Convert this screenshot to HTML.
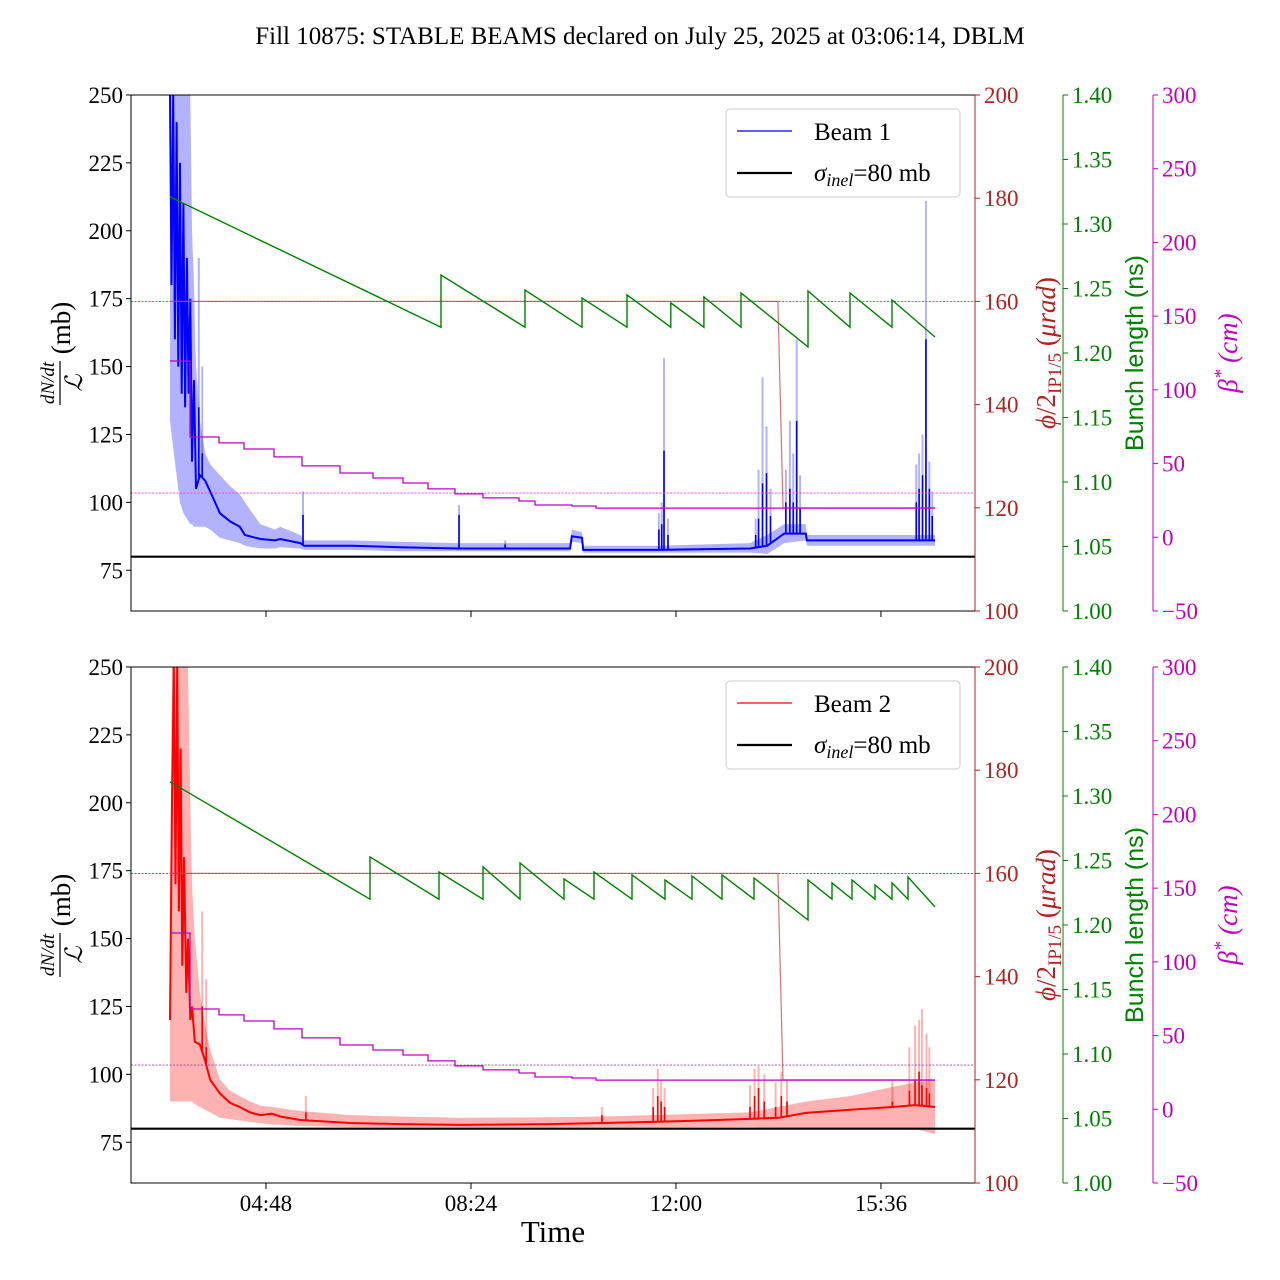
<!DOCTYPE html>
<html><head><meta charset="utf-8"><style>
html,body{margin:0;padding:0;background:#fff}
svg{display:block;font-family:"Liberation Serif",serif}
</style></head><body>
<svg id="fig" width="1280" height="1280" viewBox="0 0 1280 1280" xmlns="http://www.w3.org/2000/svg">
<text x="640" y="44" text-anchor="middle" font-size="25">Fill 10875: STABLE BEAMS declared on July 25, 2025 at 03:06:14, DBLM</text>
<text x="553" y="1242" text-anchor="middle" font-size="31">Time</text>
</svg>
<script>
// ---- data (time in hours) ----
const xTickLabels = ["04:48","08:24","12:00","15:36"];
const xTickTimes = [4.8, 8.4, 12.0, 15.6];
const leftTicks = [75,100,125,150,175,200,225,250];
const redTicks = [100,120,140,160,180,200];
const greenTicks = [1.00,1.05,1.10,1.15,1.20,1.25,1.30,1.35,1.40];
const magTicks = [-50,0,50,100,150,200,250,300];

// top panel (Beam 1)
const b1T  = [3.114,3.14,3.17,3.20,3.23,3.26,3.29,3.32,3.35,3.38,3.41,3.44,3.47,3.50,3.535,3.57,3.64,3.73,3.82,3.99,4.17,4.34,4.43,4.70,4.96,5.05,5.40,5.47,6.30,7.15,8.17,8.91,10.14,10.17,10.35,10.37,11.70,13.30,13.60,13.90,14.28,14.30,16.55];
const b1Mean=[250,180,250,160,240,150,225,140,210,135,190,140,175,115,145,105,110,108,104,96,93,91,88,86.5,86,86.5,85,84,84,83.5,83,83,83,87.5,87,82.5,82.5,83,84,88.5,88.5,86,86];
const b1Lo = [130,125,120,115,110,105,100,98,96,95,94,93,92,92,91,91,91,91,90,87,86,85,84,83,83,83.5,83,82.5,82.5,82,82,82,82,85.5,85,81.5,81.5,81.5,81,85,86,84,84];
const b1Hi = [250,250,250,250,250,250,250,250,250,250,250,250,250,200,180,150,130,118,114,110,106,103,100,92,90,91,88,86,86,85.5,85,85,85,90,89,84,84,85,88,92,92,88,88];
const b1SpikeT=[3.62,3.68,5.45,8.19,9.0,11.70,11.75,11.79,11.86,13.40,13.45,13.52,13.59,13.66,13.93,14.00,14.06,14.12,14.18,16.22,16.27,16.33,16.39,16.45,16.50];
const b1SpikeMean=[135,118,95.4,95.4,84.5,90,92,119,88,88,94,107,110.8,95,100,105,100,130,98,100,105,110,160,105,95];
const b1SpikeHi=[190,150,104,99,86,96,100,153,94,94,112,146,128,105,112,130,118,160,110,114,118,125,211,115,104];
const b1BunchT=[3.114,7.873,7.873,9.349,9.349,10.35,10.35,11.14,11.14,11.91,11.91,12.49,12.49,13.142,13.142,14.319,14.319,15.056,15.056,15.794,15.794,16.549];
const b1BunchV=[1.321,1.220,1.2605,1.220,1.2488,1.220,1.2426,1.220,1.245,1.220,1.2388,1.220,1.2434,1.220,1.2465,1.2047,1.2481,1.220,1.2465,1.220,1.2411,1.2124];

// bottom panel (Beam 2)
const b2T  = [3.114,3.15,3.18,3.21,3.24,3.27,3.30,3.33,3.36,3.40,3.43,3.47,3.50,3.55,3.64,3.73,3.82,3.99,4.17,4.34,4.52,4.70,4.90,5.05,5.40,6.28,7.15,8.20,9.80,10.70,11.60,12.45,13.30,13.80,14.28,15.06,15.80,16.20,16.55];
const b2Mean=[120,200,250,170,250,160,220,140,180,130,150,120,125,112,111,105,98,93,89.5,88,86,85,85.5,84.5,83.2,82.1,81.7,81.4,81.7,82.1,82.5,83,83.6,84,85.8,87,88,88.7,88];
const b2Lo = [90,90,90,90,90,90,90,90,90,90,90,90,90,89,88,87,86,84,83.5,83,82.5,82,81.5,81.5,81,80.5,80.5,80.5,80.5,80.5,80.5,80.5,80.5,80.3,80,80,80,80,78];
const b2Hi = [160,250,250,250,250,250,250,250,250,250,250,200,170,150,130,118,109,98,94,92,90,88.5,88,87.5,86.5,85,84.5,84,84.2,84.5,85,85.5,86,88,90,92,95.4,97,98];
const b2SpikeT=[3.68,3.75,5.50,10.70,11.60,11.68,11.74,11.80,13.30,13.38,13.45,13.55,13.75,13.85,13.95,15.80,16.10,16.20,16.27,16.32,16.40,16.45];
const b2SpikeMean=[125,110,86,85,88,92,90,88,88,92,95,90,88,92,90,90,94,98,101,96,95,93];
const b2SpikeHi=[160,135,92,88,95,102,98,95,96,102,103,100,97,101,98,98,110,118,120,124,115,110];
const b2BunchT=[3.114,6.626,6.626,7.838,7.838,8.611,8.611,9.261,9.261,10.034,10.034,10.560,10.560,11.228,11.228,11.807,11.807,12.282,12.282,12.809,12.809,13.370,13.370,14.319,14.319,14.740,14.740,15.092,15.092,15.496,15.496,15.794,15.794,16.075,16.075,16.549];
const b2BunchV=[1.311,1.220,1.2527,1.220,1.2411,1.220,1.245,1.220,1.2481,1.220,1.2357,1.220,1.2411,1.220,1.2388,1.220,1.2349,1.220,1.238,1.220,1.2388,1.220,1.2364,1.2039,1.2349,1.220,1.2326,1.220,1.2349,1.220,1.231,1.220,1.2326,1.220,1.2372,1.214];

// shared
const betaT=[3.114,3.465,3.975,4.414,4.94,5.432,6.10,6.679,7.206,7.645,8.119,8.611,9.243,9.524,10.174,10.596,16.549];
const betaV=[119.6,68.0,64.0,59.9,54.5,48.4,43.6,40.2,36.8,32.8,29.4,26.7,24.6,21.9,21.2,19.8,17.8];
const xingT=[3.114,13.79,13.88,16.549];
const xingV=[160,160,120,120];
const xingRef=160, betaRef=30, sigmaInel=80;

// ---- drawing ----
const NS="http://www.w3.org/2000/svg";
const svg=document.getElementById('fig');
const X0=131, X1=975;
function xs(t){return 266+(t-4.8)*56.94;}
function mk(tag,attrs,parent){const e=document.createElementNS(NS,tag);for(const k in attrs)e.setAttribute(k,attrs[k]);(parent||svg).appendChild(e);return e;}
function interp(T,V,t){if(t<=T[0])return V[0];for(let i=1;i<T.length;i++){if(t<=T[i]){const f=(t-T[i-1])/(T[i]-T[i-1]||1);return V[i-1]+f*(V[i]-V[i-1]);}}return V[V.length-1];}

function panel(y0,idx,cfg){
  const yb=y0+516;
  const ys=v=>yb-(v-60)*2.716;
  const yr=v=>yb-(v-100)*5.16;
  const yg=v=>yb-(v-1)*1290;
  const ym=v=>yb-(v+50)*1.4743;
  const g=mk('g',{});
  
  
  const cid='clip'+idx;
  const cp=mk('clipPath',{id:cid},g); mk('rect',{x:X0,y:y0,width:X1-X0,height:516},cp);
  const pg=mk('g',{'clip-path':'url(#'+cid+')'},g);
  let d='';
  cfg.T.forEach((t,i)=>{d+=(i?'L':'M')+xs(t).toFixed(1)+','+ys(cfg.Hi[i]).toFixed(1);});
  for(let i=cfg.T.length-1;i>=0;i--)d+='L'+xs(cfg.T[i]).toFixed(1)+','+ys(cfg.Lo[i]).toFixed(1);
  const band=mk('path',{d:d+'Z',fill:cfg.bandColor,stroke:'none'},pg);
  
  
  cfg.ST.forEach((t,i)=>{
    const base=interp(cfg.T,cfg.Mean,t);
    const s1=mk('line',{x1:xs(t),x2:xs(t),y1:ys(base),y2:ys(cfg.SH[i]),stroke:cfg.bandColor,'stroke-width':2},pg);
    
    
    const s2=mk('line',{x1:xs(t),x2:xs(t),y1:ys(base),y2:ys(cfg.SM[i]),stroke:cfg.color,'stroke-width':1.6},pg);
    
    
  });
  const ml=mk('polyline',{points:cfg.T.map((t,i)=>xs(t).toFixed(1)+','+ys(cfg.Mean[i]).toFixed(1)).join(' '),fill:'none',stroke:cfg.color,'stroke-width':2},pg);
  
  
  const r1=mk('line',{x1:X0,x2:X1,y1:yr(xingRef),y2:yr(xingRef),stroke:cfg.refRed,'stroke-width':0.9,'stroke-dasharray':'2,1.5'},pg);
  
  
  const r2=mk('line',{x1:X0,x2:X1,y1:ym(betaRef),y2:ym(betaRef),stroke:cfg.refMag,'stroke-width':0.9,'stroke-dasharray':'2,1.5'},pg);
  
  
  const xl=mk('polyline',{points:xingT.map((t,i)=>xs(t).toFixed(1)+','+yr(xingV[i]).toFixed(1)).join(' '),fill:'none',stroke:'rgba(200,70,70,0.75)','stroke-width':1.2},pg);
  
  
  let bp='';
  betaT.forEach((t,i)=>{ if(i<betaT.length-1){bp+=xs(t).toFixed(1)+','+ym(betaV[i]).toFixed(1)+' '+xs(betaT[i+1]).toFixed(1)+','+ym(betaV[i]).toFixed(1)+' ';} });
  const bl=mk('polyline',{points:bp,fill:'none',stroke:'#c000c0','stroke-width':1.3},pg);
  
  
  const gl=mk('polyline',{points:cfg.BT.map((t,i)=>xs(t).toFixed(1)+','+yg(cfg.BV[i]).toFixed(1)).join(' '),fill:'none',stroke:'#008000','stroke-width':1.4},pg);
  
  
  const sl=mk('line',{x1:X0,x2:X1,y1:ys(sigmaInel),y2:ys(sigmaInel),stroke:'#000','stroke-width':2.2},pg);
  
  
  mk('rect',{x:X0,y:y0,width:X1-X0,height:516,fill:'none',stroke:'#000','stroke-width':1},g);
  leftTicks.forEach(v=>{
    mk('line',{x1:X0-5,x2:X0,y1:ys(v),y2:ys(v),stroke:'#000'},g);
    const t=mk('text',{x:X0-8,y:ys(v)+8,'text-anchor':'end','font-size':23},g);t.textContent=v;
    
    
  });
  xTickTimes.forEach((tt,i)=>{
    mk('line',{x1:xs(tt),x2:xs(tt),y1:yb,y2:yb+6,stroke:'#000'},g);
    if(cfg.xlabels){const t=mk('text',{x:xs(tt),y:yb+28,'text-anchor':'middle','font-size':23},g);t.textContent=xTickLabels[i];
      
      }
  });
  function raxis(x,ticks,fn,col,fmt,nm){
    mk('line',{x1:x,x2:x,y1:y0,y2:yb,stroke:col,'stroke-width':1},g);
    ticks.forEach(v=>{
      mk('line',{x1:x,x2:x+5,y1:fn(v),y2:fn(v),stroke:col},g);
      const t=mk('text',{x:x+9,y:fn(v)+8,'font-size':23,fill:col},g);t.textContent=fmt(v);
      
      
    });
  }
  raxis(975,redTicks,yr,'#b22222',v=>v,'crossing-angle-tick-label');
  raxis(1063,greenTicks,yg,'#008000',v=>v.toFixed(2),'bunch-length-tick-label');
  raxis(1153,magTicks,ym,'#c000c0',v=>v<0?'\u2212'+(-v):v,'beta-star-tick-label');
  const cy=y0+258;
  const lt=mk('g',{transform:`translate(62,${cy}) rotate(-90)`},g);
  
  
  let t=mk('text',{x:-30,y:-8,'text-anchor':'middle','font-size':19,'font-style':'italic'},lt);t.textContent='dN/dt';
  mk('line',{x1:-52,x2:-8,y1:-2,y2:-2,stroke:'#000','stroke-width':1.2},lt);
  t=mk('text',{x:-30,y:20,'text-anchor':'middle','font-size':24,'font-style':'italic'},lt);t.textContent='\u2112';
  t=mk('text',{x:25,y:8,'text-anchor':'middle','font-size':27},lt);t.textContent='(mb)';
  const rt=mk('text',{transform:`translate(1055,${cy}) rotate(-90)`,'text-anchor':'middle','font-size':27,fill:'#b22222'},g);
  
  
  rt.innerHTML='<tspan font-style="italic">\u03d5</tspan>/2<tspan font-size="19" dy="6">IP1/5</tspan><tspan dy="-6"> (</tspan><tspan font-style="italic">\u03bcrad</tspan>)';
  const gt=mk('text',{transform:`translate(1143,${cy}) rotate(-90)`,'text-anchor':'middle',fill:'#008000',style:'font-family:"Liberation Sans",sans-serif','font-size':25},g);
  gt.textContent='Bunch length (ns)';
  
  
  const mt=mk('text',{transform:`translate(1237,${cy}) rotate(-90)`,'text-anchor':'middle','font-size':27,fill:'#c000c0','font-style':'italic'},g);
  mt.innerHTML='\u03b2<tspan dy="-10" font-size="19">*</tspan><tspan dy="10"> (cm)</tspan>';
  
  
  const lg=mk('g',{},g);
  
  
  mk('rect',{x:726,y:y0+14,width:234,height:88,rx:4,fill:'#fff','fill-opacity':0.8,stroke:'#ccc'},lg);
  mk('line',{x1:737,x2:792,y1:y0+36,y2:y0+36,stroke:cfg.color,'stroke-width':1.3},lg);
  t=mk('text',{x:814,y:y0+45,'font-size':25},lg);t.textContent=cfg.label;
  
  
  mk('line',{x1:737,x2:792,y1:y0+78,y2:y0+78,stroke:'#000','stroke-width':2.2},lg);
  t=mk('text',{x:814,y:y0+86,'font-size':25},lg);
  t.innerHTML='<tspan font-style="italic">\u03c3</tspan><tspan font-style="italic" font-size="18" dy="5">inel</tspan><tspan dy="-5">=80 mb</tspan>';
  
  
}
panel(95,1,{name:'beam1-panel',key:'beam1',label:'Beam 1',color:'#0000ff',bandColor:'rgba(0,0,255,0.3)',refRed:'#e04040',refMag:'#ff30ff',xlabels:false,
  T:b1T,Mean:b1Mean,Lo:b1Lo,Hi:b1Hi,ST:b1SpikeT,SM:b1SpikeMean,SH:b1SpikeHi,BT:b1BunchT,BV:b1BunchV});
panel(667,2,{name:'beam2-panel',key:'beam2',label:'Beam 2',color:'#ff0000',bandColor:'rgba(255,0,0,0.3)',refRed:'#a03030',refMag:'#a040a0',xlabels:true,
  T:b2T,Mean:b2Mean,Lo:b2Lo,Hi:b2Hi,ST:b2SpikeT,SM:b2SpikeMean,SH:b2SpikeHi,BT:b2BunchT,BV:b2BunchV});
</script>
</body></html>
